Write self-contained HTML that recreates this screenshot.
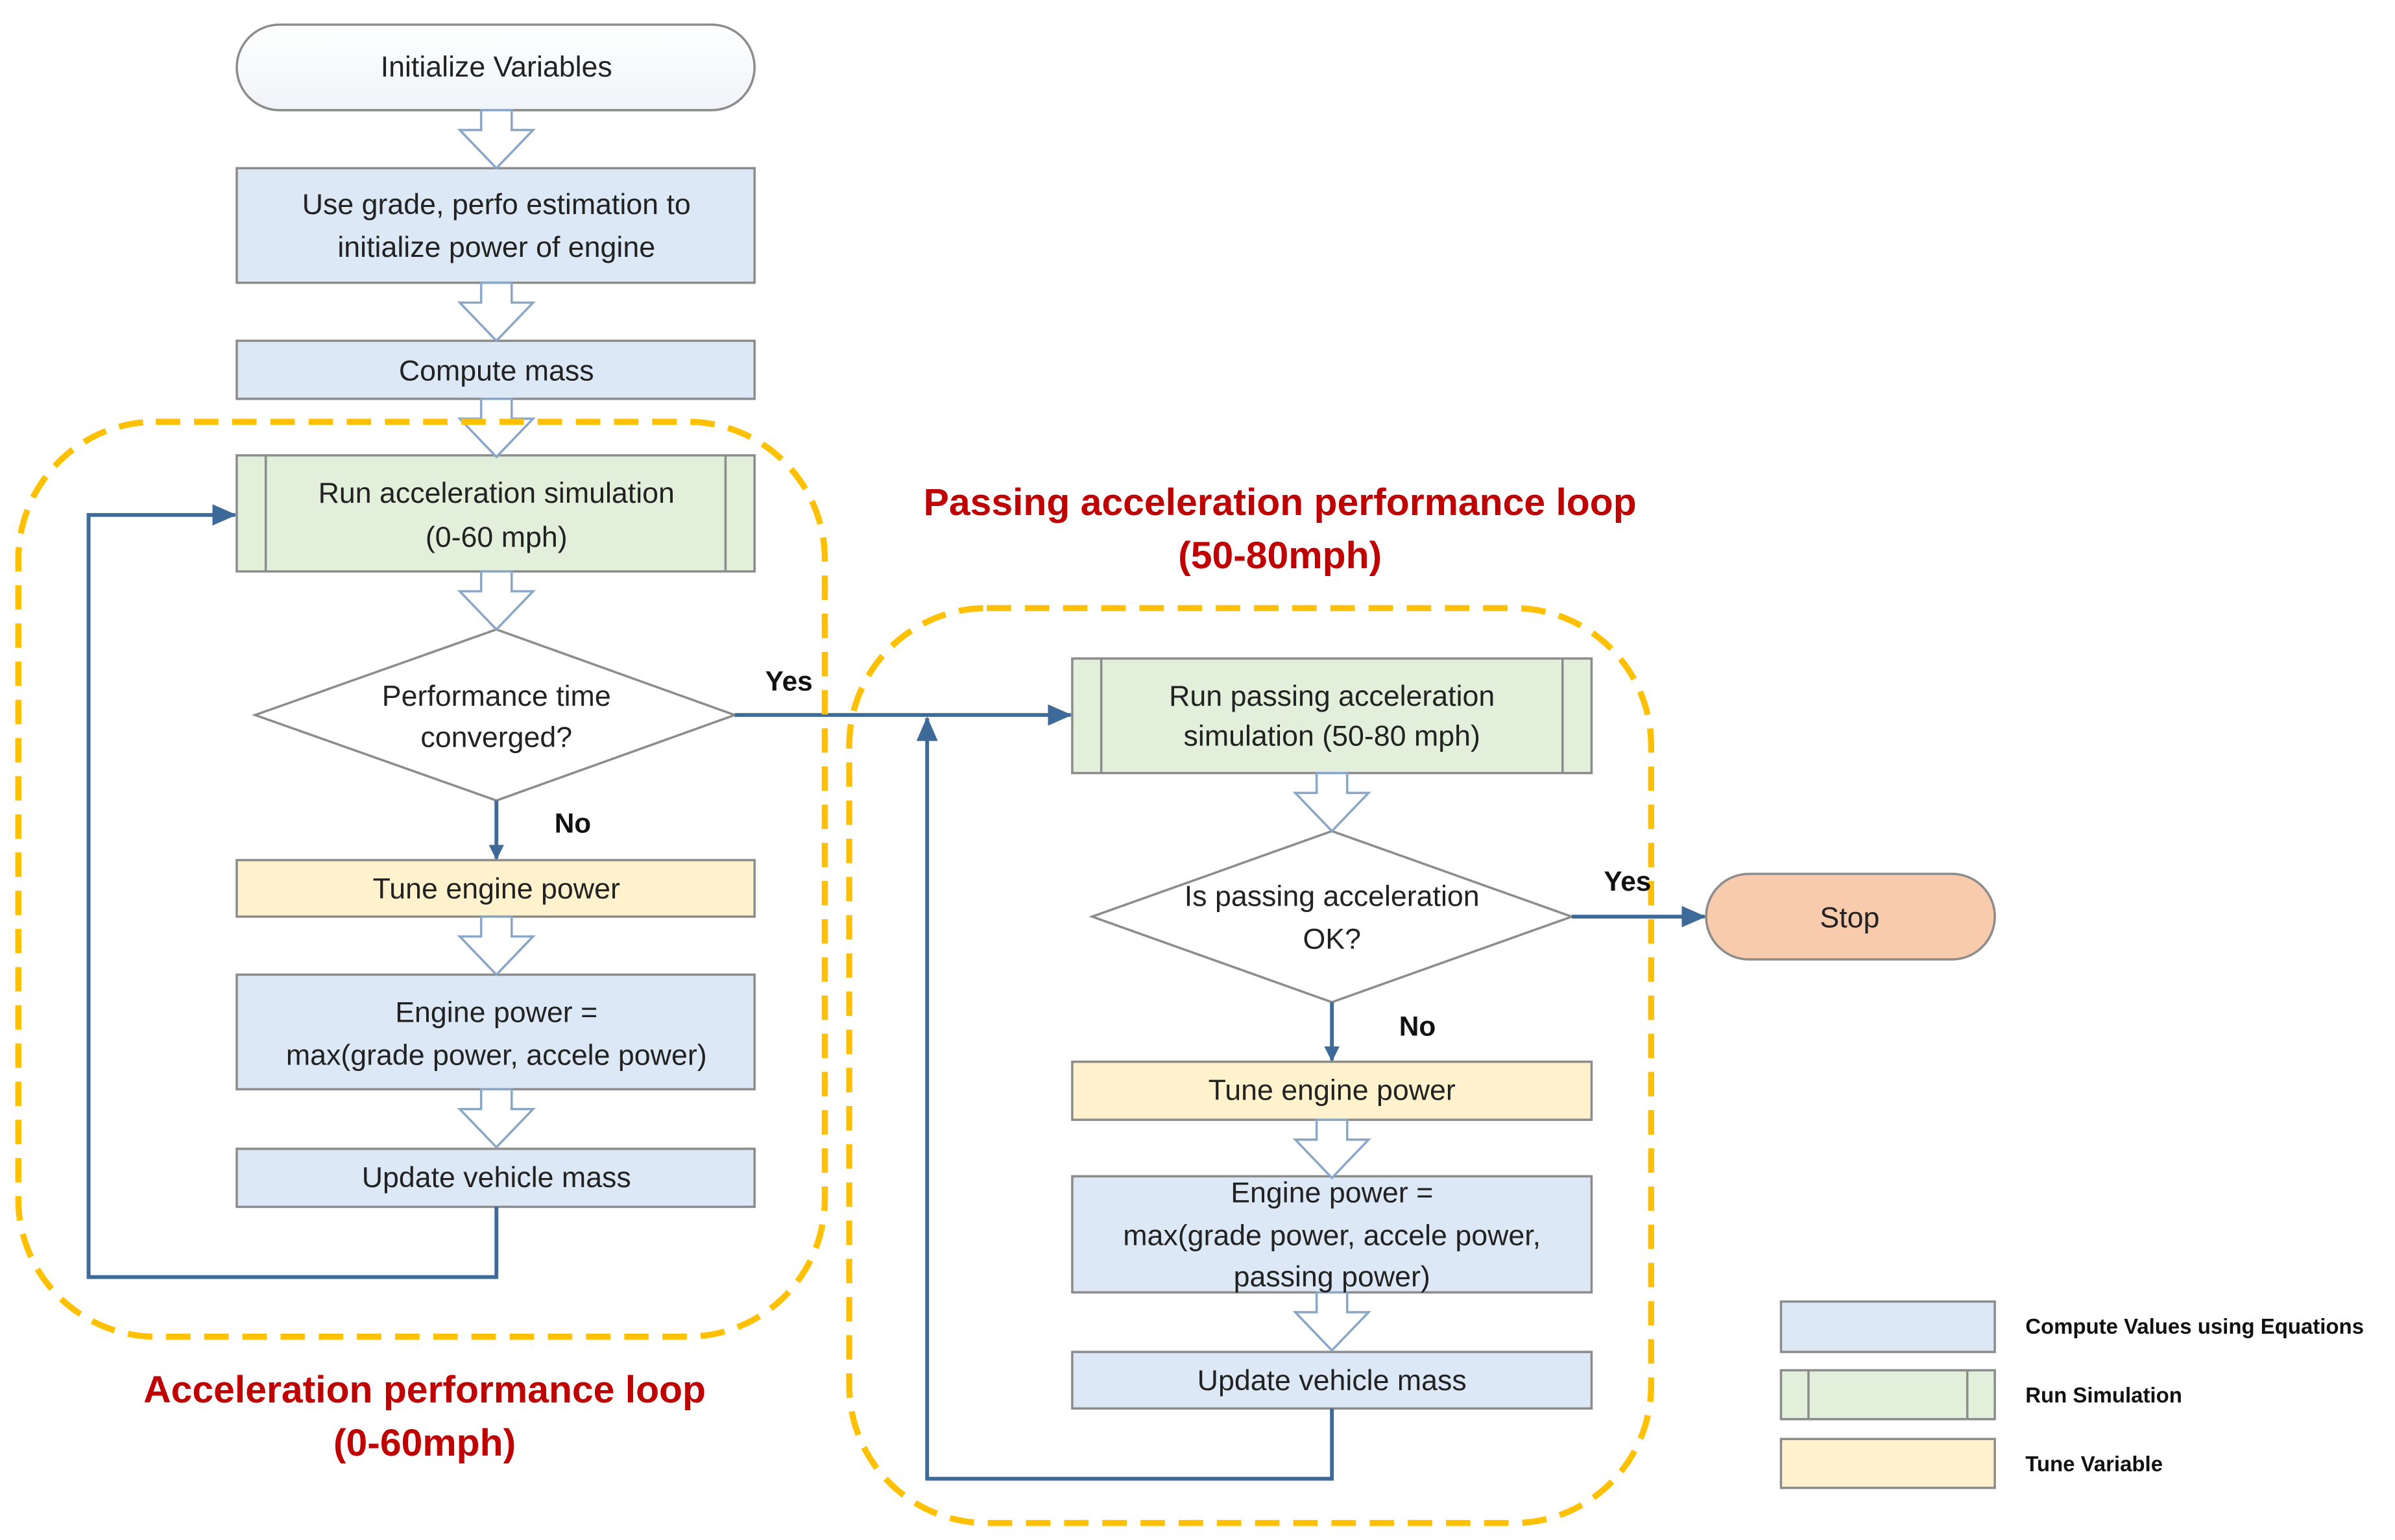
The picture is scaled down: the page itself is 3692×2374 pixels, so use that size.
<!DOCTYPE html>
<html><head><meta charset="utf-8"><style>
html,body{margin:0;padding:0;background:#fff}
svg{display:block}
text{font-family:"Liberation Sans",sans-serif}
</style></head><body>
<svg width="3692" height="2374" viewBox="0 0 1568 1008" xmlns="http://www.w3.org/2000/svg">
<defs>
<linearGradient id="wg" x1="0" y1="0" x2="0" y2="1"><stop offset="0" stop-color="#ffffff"/><stop offset="1" stop-color="#f0f3f8"/></linearGradient>
<marker id="ah" markerWidth="10" markerHeight="10" refX="9" refY="5" orient="auto" markerUnits="userSpaceOnUse" viewBox="0 0 10 10"><path d="M0,0 L10,5 L0,10 z" fill="#3d6a99"/></marker>
<marker id="ah2" markerWidth="16" markerHeight="14" refX="15" refY="7" orient="auto" markerUnits="userSpaceOnUse"><path d="M0,0 L16,7 L0,14 z" fill="#3d6a99"/></marker>
<g id="harrow"><path d="M-10,0 L10,0 L10,13 L24,13 L0,38 L-24,13 L-10,13 z" fill="#fff" stroke="#8aa7c8" stroke-width="1.5"/></g>
</defs>
<g stroke="#8c8c8c" stroke-width="1.5">
<rect x="155" y="16" width="339" height="56" rx="28" fill="url(#wg)"/>
<rect x="155" y="110" width="339" height="75" fill="#dce8f5"/>
<rect x="155" y="223" width="339" height="38" fill="#dce8f5"/>
<rect x="155" y="298" width="339" height="76" fill="#e2efda"/>
<line x1="174" y1="298" x2="174" y2="374"/><line x1="475" y1="298" x2="475" y2="374"/>
<polygon points="325,412 481,468 325,524 167,468" fill="#fff"/>
<rect x="155" y="563" width="339" height="37" fill="#fff2cc"/>
<rect x="155" y="638" width="339" height="75" fill="#dce8f5"/>
<rect x="155" y="752" width="339" height="38" fill="#dce8f5"/>
<rect x="702" y="431" width="340" height="75" fill="#e2efda"/>
<line x1="721" y1="431" x2="721" y2="506"/><line x1="1023" y1="431" x2="1023" y2="506"/>
<polygon points="872,544 1029,600 872,656 715,600" fill="#fff"/>
<rect x="702" y="695" width="340" height="38" fill="#fff2cc"/>
<rect x="702" y="770" width="340" height="76" fill="#dce8f5"/>
<rect x="702" y="885" width="340" height="37" fill="#dce8f5"/>
<rect x="1117" y="572" width="189" height="56" rx="28" fill="#f8cbad"/>
<rect x="1166" y="852" width="140" height="33" fill="#dce8f5"/>
<rect x="1166" y="897" width="140" height="32" fill="#e2efda"/>
<line x1="1184" y1="897" x2="1184" y2="929"/><line x1="1288" y1="897" x2="1288" y2="929"/>
<rect x="1166" y="942" width="140" height="32" fill="#fff2cc"/>
</g>
<use href="#harrow" x="325" y="72"/>
<use href="#harrow" x="325" y="185"/>
<use href="#harrow" x="325" y="261"/>
<use href="#harrow" x="325" y="374"/>
<use href="#harrow" x="325" y="600"/>
<use href="#harrow" x="325" y="713"/>
<use href="#harrow" x="872" y="506"/>
<use href="#harrow" x="872" y="733"/>
<use href="#harrow" x="872" y="846"/>
<g fill="none" stroke="#3d6a99" stroke-width="2.5">
<line x1="325" y1="524" x2="325" y2="562" marker-end="url(#ah)"/>
<polyline points="325,790 325,836 58,836 58,337 154,337" marker-end="url(#ah2)"/>
<line x1="481" y1="468" x2="701" y2="468" marker-end="url(#ah2)"/>
<line x1="872" y1="656" x2="872" y2="694" marker-end="url(#ah)"/>
<polyline points="872,922 872,968 607,968 607,470" marker-end="url(#ah2)"/>
<line x1="1029" y1="600" x2="1116" y2="600" marker-end="url(#ah2)"/>
</g>
<g fill="none" stroke="#ffc000" stroke-width="4" stroke-dasharray="16,9">
<rect x="12" y="276" width="528" height="599" rx="90"/>
<rect x="556" y="398" width="525" height="599" rx="90"/>
</g>
<g font-size="19" fill="#222" text-anchor="middle">
<text x="325" y="50">Initialize Variables</text>
<text x="325" y="140">Use grade, perfo estimation to</text>
<text x="325" y="168">initialize power of engine</text>
<text x="325" y="249">Compute mass</text>
<text x="325" y="329">Run acceleration simulation</text>
<text x="325" y="358">(0-60 mph)</text>
<text x="325" y="462">Performance time</text>
<text x="325" y="489">converged?</text>
<text x="325" y="588">Tune engine power</text>
<text x="325" y="669">Engine power =</text>
<text x="325" y="697">max(grade power, accele power)</text>
<text x="325" y="777">Update vehicle mass</text>
<text x="872" y="462">Run passing acceleration</text>
<text x="872" y="488">simulation (50-80 mph)</text>
<text x="872" y="593">Is passing acceleration</text>
<text x="872" y="621">OK?</text>
<text x="872" y="720">Tune engine power</text>
<text x="872" y="787">Engine power =</text>
<text x="872" y="815">max(grade power, accele power,</text>
<text x="872" y="842">passing power)</text>
<text x="872" y="910">Update vehicle mass</text>
<text x="1211" y="607">Stop</text>
</g>
<g font-size="18" font-weight="bold" fill="#111">
<text x="501" y="452">Yes</text>
<text x="363" y="545">No</text>
<text x="1050" y="583">Yes</text>
<text x="916" y="678">No</text>
</g>
<g font-size="14" font-weight="bold" fill="#111">
<text x="1326" y="873">Compute Values using Equations</text>
<text x="1326" y="918">Run Simulation</text>
<text x="1326" y="963">Tune Variable</text>
</g>
<g font-size="25" font-weight="bold" fill="#c00000" text-anchor="middle">
<text x="278" y="918">Acceleration performance loop</text>
<text x="278" y="953">(0-60mph)</text>
<text x="838" y="337">Passing acceleration performance loop</text>
<text x="838" y="372">(50-80mph)</text>
</g>
</svg>
</body></html>
